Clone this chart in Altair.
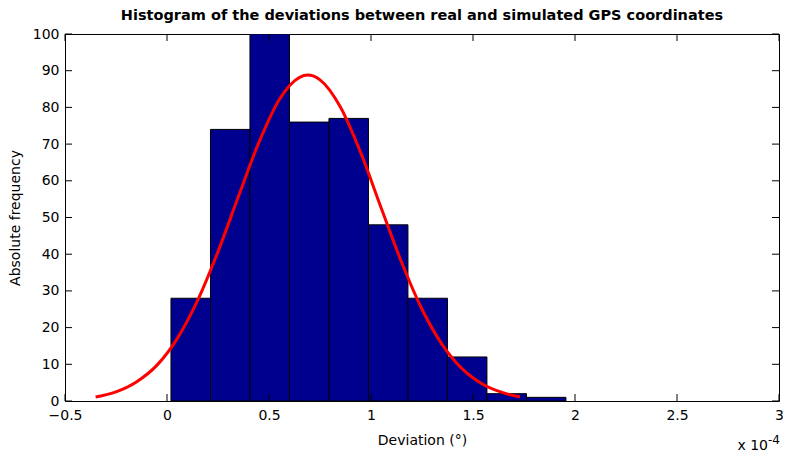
import altair as alt
import pandas as pd

# Histogram bins (units of 1e-4 degrees)
bin_start = [0.0195, 0.2131, 0.4067, 0.6003, 0.7939, 0.9875, 1.1811, 1.3747, 1.5683, 1.7619]
bin_end = [0.2131, 0.4067, 0.6003, 0.7939, 0.9875, 1.1811, 1.3747, 1.5683, 1.7619, 1.9555]
counts = [28, 74, 100, 76, 77, 48, 28, 12, 2, 1]

# Fitted normal curve
curve_x = [-0.35, -0.25, -0.15, -0.05, 0.05, 0.15, 0.25, 0.35, 0.45, 0.55, 0.65, 0.69,
           0.75, 0.85, 0.95, 1.05, 1.15, 1.25, 1.35, 1.45, 1.55, 1.65, 1.73]
curve_y = [1.1, 2.5, 5.2, 9.7, 17.0, 27.4, 40.7, 55.7, 70.4, 82.1, 88.2, 88.8,
           87.5, 80.1, 67.6, 52.6, 37.8, 25.0, 15.3, 8.6, 4.5, 2.2, 1.1]

x_ticks = [-0.5, 0, 0.5, 1, 1.5, 2, 2.5, 3]
y_ticks = [0, 10, 20, 30, 40, 50, 60, 70, 80, 90, 100]

W, H = 714, 367
FONT = "DejaVu Sans"

xscale = alt.Scale(domain=[-0.5, 3], nice=False, zero=False)
yscale = alt.Scale(domain=[0, 100], nice=False)

xaxis = alt.Axis(values=x_ticks, format="~g", title="Deviation (°)",
                 titleY=43, titleBaseline="alphabetic",
                 labelOverlap=False, labelFlush=False,
                 ticks=False, domain=False, grid=False, labelPadding=7)
yaxis = alt.Axis(values=y_ticks, title="Absolute frequency",
                 titleAngle=270, titleX=-45.5, titleY=H / 2,
                 titleBaseline="alphabetic",
                 labelOverlap=False, labelFlush=False,
                 ticks=False, domain=False, grid=False, labelPadding=6)

bars_df = pd.DataFrame({"start": bin_start, "end": bin_end, "count": counts})
curve_df = pd.DataFrame({"x": curve_x, "y": curve_y})
xt_df = pd.DataFrame({"v": x_ticks})
yt_df = pd.DataFrame({"v": y_ticks})

bars = alt.Chart(bars_df).mark_rect(
    color="#00008F", stroke="black", strokeWidth=1, clip=True
).encode(
    x=alt.X("start:Q", scale=xscale, axis=xaxis),
    x2="end:Q",
    y=alt.Y("count:Q", scale=yscale, axis=yaxis),
    y2=alt.datum(0),
)

curve = alt.Chart(curve_df).mark_line(
    color="#FF0000", strokeWidth=3, interpolate="monotone"
).encode(
    x=alt.X("x:Q", scale=xscale, axis=xaxis),
    y=alt.Y("y:Q", scale=yscale, axis=yaxis),
)

xt_bottom = alt.Chart(xt_df).mark_rule(color="black", strokeWidth=1).encode(
    x=alt.X("v:Q", scale=xscale, axis=xaxis), y=alt.value(H), y2=alt.value(H - 7))
xt_top = alt.Chart(xt_df).mark_rule(color="black", strokeWidth=1).encode(
    x=alt.X("v:Q", scale=xscale, axis=xaxis), y=alt.value(0), y2=alt.value(7))
yt_left = alt.Chart(yt_df).mark_rule(color="black", strokeWidth=1).encode(
    y=alt.Y("v:Q", scale=yscale, axis=yaxis), x=alt.value(0), x2=alt.value(7))
yt_right = alt.Chart(yt_df).mark_rule(color="black", strokeWidth=1).encode(
    y=alt.Y("v:Q", scale=yscale, axis=yaxis), x=alt.value(W), x2=alt.value(W - 7))

exp_base = alt.Chart(pd.DataFrame({"t": ["x 10"]})).mark_text(
    align="right", baseline="alphabetic", font=FONT, fontSize=14, color="black"
).encode(text="t:N", x=alt.value(W - 11), y=alt.value(416))
exp_sup = alt.Chart(pd.DataFrame({"t": ["-4"]})).mark_text(
    align="left", baseline="alphabetic", font=FONT, fontSize=12, color="black"
).encode(text="t:N", x=alt.value(W - 11), y=alt.value(410))

chart = alt.layer(
    bars, curve, xt_bottom, xt_top, yt_left, yt_right, exp_base, exp_sup
).properties(
    width=W, height=H,
    title=alt.TitleParams(
        "Histogram of the deviations between real and simulated GPS coordinates",
        font=FONT, fontSize=14.5, fontWeight="bold", anchor="middle",
        offset=4, color="black", frame="group"),
    autosize=alt.AutoSizeParams(type="none"),
    padding={"left": 57, "top": 26, "right": 4, "bottom": 56},
).configure_view(
    stroke="black", strokeWidth=1
).configure_axis(
    labelFont=FONT, labelFontSize=14, labelColor="black",
    titleFont=FONT, titleFontSize=14, titleColor="black", titleFontWeight="normal",
)

chart.save("out.html", embed_options={"renderer": "svg", "actions": False})
